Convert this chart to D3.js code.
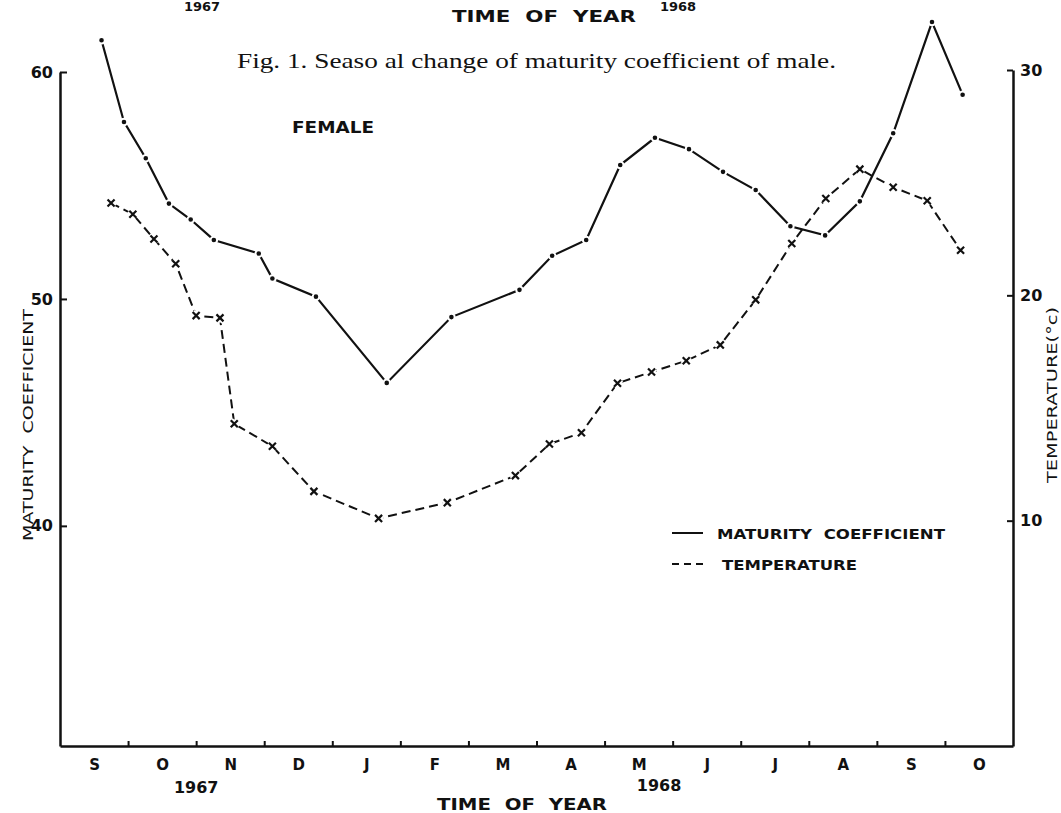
<!DOCTYPE html>
<html>
<head>
<meta charset="utf-8">
<script src="https://cdn.jsdelivr.net/npm/d3@7"></script>
<style>
  body { margin: 0; background: #fff; }
  svg { display: block; }
  .lettering { font-family: "DejaVu Sans", sans-serif; fill: #111; white-space: pre; }
</style>
</head>
<body>
<div id="chart"></div>
<script>
// Month initials from Sep 1967 to Oct 1968, one per month.
const months = ['S', 'O', 'N', 'D', 'J', 'F', 'M', 'A', 'M', 'J', 'J', 'A', 'S', 'O'];
const leftTicks = [40, 50, 60];
const rightTicks = [10, 20, 30];

// Maturity coefficient (female): time in months since 1 Sep 1967.
const maturityMonth = [0.61, 0.94, 1.26, 1.6, 1.92, 2.26, 2.92, 3.12, 3.76, 4.8, 5.75, 6.75, 7.23,
  7.73, 8.23, 8.74, 9.24, 9.74, 10.22, 10.73, 11.24, 11.75, 12.24, 12.81, 13.26];
const maturityValue = [61.4, 57.8, 56.2, 54.2, 53.5, 52.6, 52.0, 50.9, 50.1, 46.3, 49.2, 50.4, 51.9,
  52.6, 55.9, 57.1, 56.6, 55.6, 54.8, 53.2, 52.8, 54.3, 57.3, 62.2, 59.0];

// Water temperature (°C).
const tempMonth = [0.75, 1.07, 1.38, 1.7, 2.0, 2.35, 2.56, 3.12, 3.73, 4.68, 5.69, 6.69, 7.19,
  7.66, 8.19, 8.69, 9.2, 9.7, 10.22, 10.75, 11.25, 11.75, 12.24, 12.74, 13.23];
const tempValue = [24.1, 23.6, 22.5, 21.4, 19.1, 19.0, 14.3, 13.3, 11.3, 10.1, 10.8, 12.0, 13.4,
  13.9, 16.1, 16.6, 17.1, 17.8, 19.8, 22.3, 24.3, 25.6, 24.8, 24.2, 22.0];

const width = 1061;
const height = 813;

const maturity = maturityMonth.map((m, i) => ({ m, v: maturityValue[i] }));
const temperature = tempMonth.map((m, i) => ({ m, v: tempValue[i] }));

const svg = d3.select('#chart')
  .append('svg')
  .attr('width', width)
  .attr('height', height);

// Scales.
const x = d3.scaleLinear().domain([0, 14]).range([60, 1013]);
const yLeft = d3.scaleLinear().domain([30.3, 60]).range([746, 72]);
const yRight = d3.scaleLinear().domain([0, 30]).range([746, 70]);
const baseY = yLeft.range()[0];

// Axes: ticks point inward, like the hand-drawn original.
const axisStyle = g => {
  g.select('.domain').attr('stroke', '#111').attr('stroke-width', 2.5);
  g.selectAll('.tick line').attr('stroke', '#111').attr('stroke-width', 2);
  g.selectAll('text').attr('class', 'lettering').attr('font-size', 16).attr('font-weight', 'bold');
};

svg.append('g')
  .attr('transform', `translate(${x(0)},0)`)
  .call(d3.axisLeft(yLeft).tickValues(leftTicks).tickSize(-7).tickSizeOuter(0).tickPadding(7))
  .call(axisStyle);

svg.append('g')
  .attr('transform', `translate(${x(14)},0)`)
  .call(d3.axisRight(yRight).tickValues(rightTicks).tickSize(-6).tickSizeOuter(0).tickPadding(7))
  .call(axisStyle);

// Month boundary ticks.
svg.append('g')
  .attr('transform', `translate(0,${baseY})`)
  .call(d3.axisBottom(x).tickValues(d3.range(1, 14)).tickSize(-5).tickSizeOuter(0).tickFormat(''))
  .call(axisStyle);

// Month initials centred in each month.
svg.append('g')
  .attr('transform', `translate(0,${baseY + 10})`)
  .call(d3.axisBottom(x).tickValues(months.map((d, i) => i + 0.5)).tickSize(0)
    .tickFormat((d, i) => months[i]))
  .call(g => g.select('.domain').remove())
  .call(g => g.selectAll('text').attr('class', 'lettering').attr('font-size', 15).attr('font-weight', 'bold'));

// Year labels and axis title.
const lettering = (tx, ty, str, size, opts = {}) => {
  const t = svg.append('text')
    .attr('class', 'lettering')
    .attr('x', tx)
    .attr('y', ty)
    .attr('text-anchor', opts.anchor || 'middle')
    .attr('font-size', size)
    .attr('font-weight', opts.weight || 'bold')
    .text(str);
  if (opts.len) t.attr('textLength', opts.len).attr('lengthAdjust', 'spacingAndGlyphs');
  if (opts.rotate) t.attr('transform', `rotate(${opts.rotate},${tx},${ty})`);
  return t;
};

lettering(x(2.0), 793, '1967', 16);
lettering(x(8.8), 791, '1968', 16);
lettering(522, 810, 'TIME  OF  YEAR', 15, { len: 170 });

// Remains of the previous figure at the top of the page.
lettering(202, 11, '1967', 13);
lettering(678, 11, '1968', 13);
lettering(544, 22, 'TIME  OF  YEAR', 15, { len: 184 });

svg.append('text')
  .attr('x', 237)
  .attr('y', 68)
  .attr('font-family', '"Liberation Serif", serif')
  .attr('font-size', 21)
  .attr('fill', '#111')
  .attr('textLength', 599)
  .attr('lengthAdjust', 'spacingAndGlyphs')
  .text('Fig. 1. Seaso al change of maturity coefficient of male.');

lettering(333, 133, 'FEMALE', 15, { len: 82 });

// Vertical axis titles.
lettering(33, 425, 'MATURITY  COEFFICIENT', 14, { len: 232, rotate: -90, weight: 'normal' });
lettering(1057, 395, 'TEMPERATURE(°c)', 14, { len: 176, rotate: -90, weight: 'normal' });

// Temperature series (dashed, x marks).
const tempLine = d3.line().x(d => x(d.m)).y(d => yRight(d.v));
svg.append('path')
  .datum(temperature)
  .attr('d', tempLine)
  .attr('fill', 'none')
  .attr('stroke', '#111')
  .attr('stroke-width', 2)
  .attr('stroke-dasharray', '9,5');

const cross = d3.symbol().type(d3.symbolX).size(34);
svg.append('g')
  .selectAll('path')
  .data(temperature)
  .join('path')
  .attr('transform', d => `translate(${x(d.m)},${yRight(d.v)})`)
  .attr('d', cross)
  .attr('fill', 'none')
  .attr('stroke', '#fff')
  .attr('stroke-width', 6);
svg.append('g')
  .selectAll('path')
  .data(temperature)
  .join('path')
  .attr('transform', d => `translate(${x(d.m)},${yRight(d.v)})`)
  .attr('d', cross)
  .attr('fill', 'none')
  .attr('stroke', '#111')
  .attr('stroke-width', 2.2);

// Maturity coefficient series (solid, dots).
const matLine = d3.line().x(d => x(d.m)).y(d => yLeft(d.v));
svg.append('path')
  .datum(maturity)
  .attr('d', matLine)
  .attr('fill', 'none')
  .attr('stroke', '#111')
  .attr('stroke-width', 2.2);

svg.append('g')
  .selectAll('circle')
  .data(maturity)
  .join('circle')
  .attr('cx', d => x(d.m))
  .attr('cy', d => yLeft(d.v))
  .attr('r', 3.3)
  .attr('fill', '#111')
  .attr('stroke', '#fff')
  .attr('stroke-width', 2);

// Legend.
const legend = svg.append('g');
legend.append('line')
  .attr('x1', 672).attr('x2', 703).attr('y1', 533).attr('y2', 533)
  .attr('stroke', '#111').attr('stroke-width', 2);
legend.append('line')
  .attr('x1', 672).attr('x2', 703).attr('y1', 564).attr('y2', 564)
  .attr('stroke', '#111').attr('stroke-width', 2)
  .attr('stroke-dasharray', '7,5');
lettering(717, 539, 'MATURITY  COEFFICIENT', 14, { anchor: 'start', len: 228 });
lettering(722, 570, 'TEMPERATURE', 14, { anchor: 'start', len: 135 });
</script>
</body>
</html>
